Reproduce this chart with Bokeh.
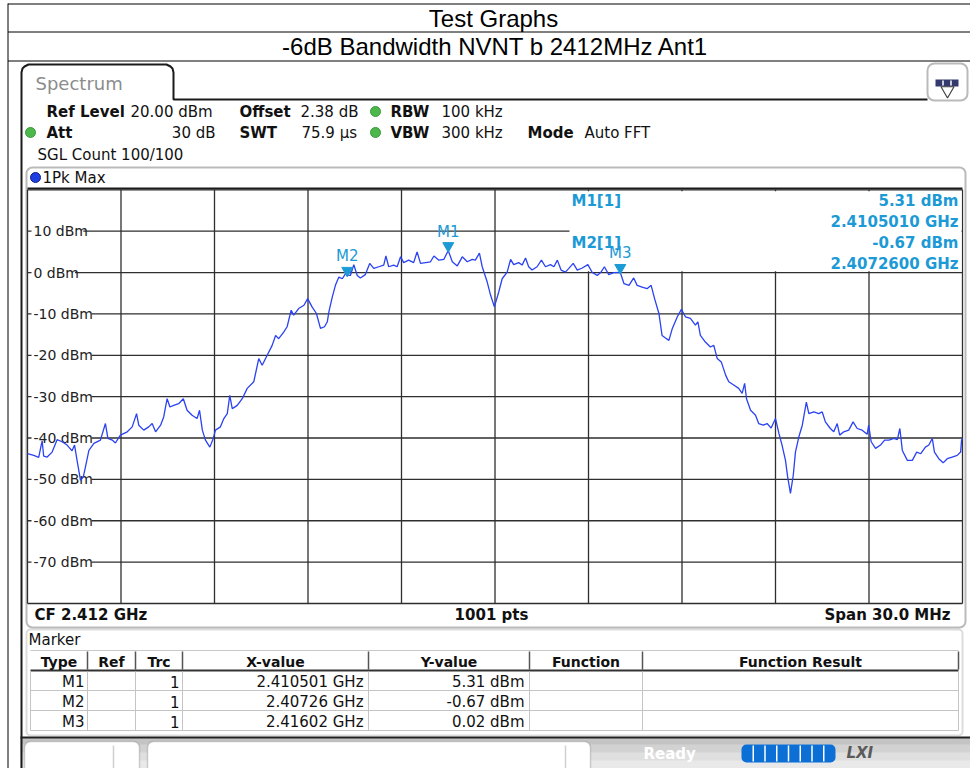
from bokeh.plotting import figure
from bokeh.models import Range1d, BoxAnnotation
from bokeh.embed import file_html
from bokeh.resources import INLINE
from bokeh.core.properties import value

# ---------------- data ----------------
report_title = "Test Graphs"
report_subtitle = "-6dB Bandwidth NVNT b 2412MHz Ant1"

center_mhz = 2412.0
span_mhz = 30.0
ref_level_dbm = 20.0
db_per_div = 10.0
n_div_y = 10
n_div_x = 10
y_tick_dbm = [10, 0, -10, -20, -30, -40, -50, -60, -70]
y_tick_labels = ["10 dBm", "0 dBm", "-10 dBm", "-20 dBm", "-30 dBm",
                 "-40 dBm", "-50 dBm", "-60 dBm", "-70 dBm"]

trace_freq_mhz = [
    2397.00, 2397.20, 2397.36, 2397.44, 2397.47, 2397.52, 2397.63, 2397.79, 2397.95, 2398.11,
    2398.27, 2398.43, 2398.51, 2398.59, 2398.70, 2398.79, 2398.86, 2398.97, 2399.13, 2399.34,
    2399.50, 2399.58, 2399.72, 2399.82, 2399.98, 2400.20, 2400.36, 2400.50, 2400.57, 2400.73,
    2400.89, 2401.00, 2401.11, 2401.27, 2401.37, 2401.48, 2401.57, 2401.69, 2401.85, 2402.00,
    2402.12, 2402.28, 2402.44, 2402.52, 2402.61, 2402.71, 2402.85, 2402.96, 2403.03, 2403.19,
    2403.30, 2403.41, 2403.49, 2403.57, 2403.73, 2403.89, 2404.05, 2404.26, 2404.42, 2404.53,
    2404.69, 2404.85, 2404.96, 2405.06, 2405.22, 2405.33, 2405.46, 2405.54, 2405.70, 2405.87,
    2405.99, 2406.13, 2406.27, 2406.40, 2406.53, 2406.62, 2406.67, 2406.78, 2406.88, 2406.99,
    2407.10, 2407.20, 2407.26, 2407.36, 2407.47, 2407.58, 2407.68, 2407.84, 2407.98, 2408.11,
    2408.27, 2408.43, 2408.50, 2408.59, 2408.75, 2408.86, 2408.97, 2409.07, 2409.23, 2409.39,
    2409.50, 2409.61, 2409.77, 2409.93, 2410.04, 2410.20, 2410.36, 2410.50, 2410.63, 2410.79,
    2410.95, 2411.11, 2411.27, 2411.37, 2411.50, 2411.59, 2411.75, 2411.86, 2411.98, 2412.12,
    2412.23, 2412.39, 2412.50, 2412.60, 2412.76, 2412.87, 2412.98, 2413.08, 2413.19, 2413.35,
    2413.49, 2413.62, 2413.78, 2413.89, 2414.00, 2414.12, 2414.26, 2414.37, 2414.51, 2414.64,
    2414.80, 2414.98, 2415.12, 2415.28, 2415.39, 2415.51, 2415.65, 2415.81, 2416.02, 2416.14,
    2416.30, 2416.45, 2416.56, 2416.72, 2416.88, 2417.01, 2417.12, 2417.26, 2417.36, 2417.47,
    2417.58, 2417.69, 2417.85, 2417.98, 2418.11, 2418.27, 2418.43, 2418.51, 2418.59, 2418.75,
    2418.91, 2419.02, 2419.13, 2419.26, 2419.40, 2419.50, 2419.66, 2419.82, 2419.93, 2420.01,
    2420.07, 2420.20, 2420.36, 2420.46, 2420.61, 2420.73, 2420.86, 2421.00, 2421.11, 2421.21,
    2421.32, 2421.39, 2421.48, 2421.57, 2421.64, 2421.75, 2421.86, 2421.99, 2422.07, 2422.23,
    2422.39, 2422.50, 2422.60, 2422.76, 2422.87, 2422.98, 2423.06, 2423.19, 2423.35, 2423.49,
    2423.62, 2423.78, 2423.94, 2423.99, 2424.07, 2424.21, 2424.37, 2424.50, 2424.64, 2424.80,
    2424.91, 2424.99, 2425.07, 2425.23, 2425.39, 2425.53, 2425.66, 2425.81, 2425.92, 2426.03,
    2426.10, 2426.24, 2426.38, 2426.51, 2426.67, 2426.83, 2426.94, 2426.97, 2427.00,
]
trace_dbm = [
    -43.8, -44.2, -44.7, -41.7, -40.7, -44.4, -44.6, -43.4, -40.4, -40.9,
    -41.7, -43.1, -41.7, -45.4, -50.2, -49.4, -47.0, -43.0, -41.3, -40.5,
    -36.5, -40.1, -40.5, -41.2, -39.3, -38.5, -37.3, -34.1, -36.9, -38.1,
    -37.3, -36.5, -38.5, -36.9, -34.9, -30.5, -32.5, -32.1, -31.7, -30.5,
    -33.3, -34.5, -35.3, -33.3, -38.1, -40.5, -42.2, -40.1, -38.1, -37.3,
    -35.3, -34.1, -29.7, -32.9, -32.1, -30.5, -28.0, -26.4, -20.8, -22.4,
    -20.0, -17.6, -15.2, -16.0, -14.4, -13.1, -9.1, -10.3, -8.7, -7.9,
    -6.3, -8.3, -9.9, -13.5, -13.1, -11.9, -9.5, -5.9, -3.1, -1.1,
    -1.5, -0.3, -0.67, -0.7, 1.9, -0.7, -1.3, -0.5, 2.2, 1.0,
    1.4, 1.8, 4.0, 1.4, 1.8, 1.4, 3.8, 2.4, 3.0, 2.4,
    5.0, 2.2, 2.4, 2.6, 4.0, 3.0, 3.2, 5.31, 2.6, 1.6,
    3.8, 2.6, 3.2, 3.0, 4.7, 1.4, -2.3, -5.5, -8.3, -4.7,
    -1.5, 0.1, 3.2, 1.9, 2.4, 1.8, 3.5, 1.4, 0.6, 1.4,
    3.0, 1.4, 1.9, 1.4, 3.0, 0.6, 0.1, 1.0, 2.2, 0.6,
    1.1, 1.9, 0.0, -0.7, 0.0, 1.4, -0.5, 0.0, 0.02, -2.7,
    -3.1, -1.3, -3.1, -3.5, -3.9, -3.1, -6.3, -9.9, -15.2, -15.8,
    -16.4, -13.5, -10.7, -8.9, -10.7, -11.1, -12.7, -11.9, -15.2, -16.8,
    -18.0, -17.6, -20.8, -21.6, -24.8, -26.4, -27.2, -28.0, -29.2, -26.8,
    -30.5, -33.3, -34.5, -36.5, -36.9, -36.5, -37.6, -35.3, -38.9, -41.7,
    -45.4, -49.4, -53.4, -49.0, -43.4, -39.7, -36.9, -31.3, -34.1, -33.7,
    -34.1, -33.7, -36.1, -37.7, -38.5, -36.5, -39.3, -38.5, -38.1, -36.1,
    -37.7, -38.1, -39.1, -36.9, -40.9, -42.5, -41.7, -40.5, -40.5, -40.1,
    -40.4, -37.7, -43.0, -45.4, -45.4, -43.4, -43.8, -42.2, -41.7, -40.1,
    -43.4, -45.0, -46.0, -45.0, -44.6, -44.2, -43.4, -40.5, -40.1,
]

marker_names = ["M1", "M2", "M3"]
marker_freq_ghz = [2.410501, 2.40726, 2.41602]
marker_dbm = [5.31, -0.67, 0.02]
marker_table_x = ["2.410501 GHz", "2.40726 GHz", "2.41602 GHz"]
marker_table_y = ["5.31 dBm", "-0.67 dBm", "0.02 dBm"]
marker_table_trc = ["1", "1", "1"]
table_headers = ["Type", "Ref", "Trc", "X-value", "Y-value", "Function", "Function Result"]

# ---------------- layout (reference pixel space) ----------------
OX, OY = 0, 0
W, H = 970, 768
GX0, GX1 = 27.0, 962.0      # grid left/right pixel
GY0, GY1 = 189.3, 603.0     # grid top/bottom pixel

f_lo = center_mhz - span_mhz / 2
f_hi = center_mhz + span_mhz / 2
db_top = ref_level_dbm
db_bot = ref_level_dbm - n_div_y * db_per_div
mhz_px = span_mhz / (GX1 - GX0)
db_px = (db_top - db_bot) / (GY1 - GY0)

p = figure(width=W, height=H, x_range=Range1d(OX, OX + W), y_range=Range1d(OY + H, OY),
           output_backend="svg", toolbar_location=None, min_border=0,
           x_axis_location=None, y_axis_location=None)
p.grid.visible = False
p.outline_line_color = None
p.background_fill_color = "white"
p.border_fill_color = "white"
p.extra_x_ranges = {"f": Range1d(f_lo - (GX0 - OX) * mhz_px, f_hi + (OX + W - GX1) * mhz_px)}
p.extra_y_ranges = {"db": Range1d(db_bot - (OY + H - GY1) * db_px, db_top + (GY0 - OY) * db_px)}

DARK = "#1a1a1a"
GRID = "#2e2e2e"
MK = "#1c9ad6"
TRACE = "#2a42f2"
GREEN = "#4cb84c"


def txt(x, y, s, size=15, bold=False, color="#111111", align="left", baseline="middle",
        font="DejaVu Sans", italic=False):
    style = "normal"
    if bold and italic:
        style = "bold italic"
    elif bold:
        style = "bold"
    elif italic:
        style = "italic"
    p.text(x=[x], y=[y], text=[s], text_font=value(font), text_font_size=f"{size}px",
           text_font_style=style, text_color=color, text_align=align, text_baseline=baseline)


def box(l, r, t, b, radius=0, fill="white", line=DARK, lw=2):
    p.add_layout(BoxAnnotation(left=l, right=r, top=t, bottom=b, border_radius=radius,
                               fill_color=fill, fill_alpha=1.0, line_color=line,
                               line_width=lw, level="underlay"))


# status bar gradient & buttons (underlay)
box(20, 970, 737, 768, 0, "#c4c4c4", None, 0)
box(20, 970, 744, 768, 0, "#d2d2d2", None, 0)
box(20, 970, 752, 768, 0, "#dfdfdf", None, 0)
box(20, 970, 760, 768, 0, "#e9e9e9", None, 0)
box(24, 139, 741, 790, 6, "white", "#6a6a6a", 1.5)
box(147, 590, 741, 790, 6, "white", "#6a6a6a", 1.5)
box(741, 835, 744, 762, 5, "#0b6fd6", None, 0)
# screen panels
box(26, 965, 167, 627, 6, "white", DARK, 2)
box(26, 962, 629, 735, 4, "white", "#8a8a8a", 2)
box(927, 967, 63, 100, 7, "white", DARK, 2)

# report table lines
p.line(x=[7.5, 970], y=[3.5, 3.5], line_color="black", line_width=1)
p.line(x=[7.5, 970], y=[31.5, 31.5], line_color="black", line_width=1)
p.line(x=[7.5, 970], y=[60.5, 60.5], line_color="black", line_width=1)
p.line(x=[7.5, 7.5], y=[3, 768], line_color="black", line_width=1)
txt(493, 18, report_title, size=24, font="Liberation Sans", color="black", align="center")
txt(495, 46, report_subtitle, size=24, font="Liberation Sans", color="black", align="center")

# tab outline
p.line(x=[21, 21, 22, 24, 28, 166, 170, 172, 173, 173, 927],
       y=[768, 72, 68, 66, 64, 64, 66, 68, 72, 99, 99], line_color=DARK, line_width=2)
txt(35, 83, "Spectrum", size=18, color="#8c8c8c")

# menu button icon
p.quad(left=[935], right=[958], top=[79], bottom=[86], fill_color="#353a6e", line_color=None)
p.segment(x0=[942.5, 950.5], x1=[942.5, 950.5], y0=[80, 80], y1=[85, 85], line_color="white", line_width=1.5)
p.scatter(x=[947], y=[90], marker="inverted_triangle", size=13, fill_color=None,
          line_color="#444", line_width=1.2)

# settings block
txt(46, 111, "Ref Level", bold=True)
txt(130, 111, "20.00 dBm")
txt(239, 111, "Offset", bold=True)
txt(300, 111, "2.38 dB")
txt(390, 111, "RBW", bold=True)
txt(441, 111, "100 kHz")
txt(46, 132, "Att", bold=True)
txt(215, 132, "30 dB", align="right")
txt(239, 132, "SWT", bold=True)
txt(301, 132, "75.9 µs")
txt(390, 132, "VBW", bold=True)
txt(441, 132, "300 kHz")
txt(527, 132, "Mode", bold=True)
txt(584, 132, "Auto FFT")
txt(37, 154, "SGL Count 100/100")
p.scatter(x=[30, 375, 375], y=[132, 111, 132], size=10, fill_color=GREEN, line_color="#3a9a3a")

# trace header
p.scatter(x=[35], y=[177], size=10, fill_color="#1f3fe0", line_color="#10208a")
txt(42, 177, "1Pk Max")
p.line(x=[27, 962], y=[188, 188], line_color=DARK, line_width=2)

# grid
vx = [f_lo + i * span_mhz / n_div_x for i in range(n_div_x + 1)]
hy = [db_top - i * db_per_div for i in range(n_div_y + 1)]
p.segment(x0=vx, x1=vx, y0=[db_top] * len(vx), y1=[db_bot] * len(vx),
          x_range_name="f", y_range_name="db", line_color=GRID, line_width=1.3)
p.segment(x0=[f_lo] * len(hy), x1=[f_hi] * len(hy), y0=hy, y1=hy,
          x_range_name="f", y_range_name="db", line_color=GRID, line_width=1.3)

# marker readout area (white box over grid)
p.quad(left=[569], right=[961], top=[190.8], bottom=[270.8], fill_color="white", line_color=None)

# y labels with white background
p.quad(left=[31] * len(y_tick_dbm), right=[31 + 8.3 * len(s) + 2 for s in y_tick_labels],
       top=[v + 1.9 for v in y_tick_dbm], bottom=[v - 1.9 for v in y_tick_dbm],
       y_range_name="db", fill_color="white", line_color=None)
p.text(x=[33] * len(y_tick_dbm), y=y_tick_dbm, text=y_tick_labels, y_range_name="db",
       text_font=value("DejaVu Sans"), text_font_size="14px", text_color="#222222",
       text_baseline="middle", text_align="left")

# trace
p.line(x=trace_freq_mhz, y=trace_dbm, x_range_name="f", y_range_name="db",
       line_color=TRACE, line_width=1.3)

# markers
mx = [f * 1000.0 for f in marker_freq_ghz]
p.scatter(x=mx, y=[v + 1.15 for v in marker_dbm], x_range_name="f", y_range_name="db",
          marker="inverted_triangle", size=11, fill_color=MK, line_color=MK)
p.text(x=mx, y=marker_dbm, text=marker_names, x_range_name="f", y_range_name="db",
       y_offset=-19, text_font=value("DejaVu Sans"), text_font_size="15px", text_color=MK,
       text_align="center", text_baseline="alphabetic")

# marker readout
txt(571, 200, f"{marker_names[0]}[1]", bold=True, color=MK)
txt(958, 200, f"{marker_dbm[0]:.2f} dBm", bold=True, color=MK, align="right")
txt(958, 221, f"{marker_freq_ghz[0]:.7f} GHz", bold=True, color=MK, align="right")
txt(571, 242, f"{marker_names[1]}[1]", bold=True, color=MK)
txt(958, 242, f"{marker_dbm[1]:.2f} dBm", bold=True, color=MK, align="right")
txt(958, 263, f"{marker_freq_ghz[1]:.7f} GHz", bold=True, color=MK, align="right")

# footer of trace window
txt(34, 614, f"CF {center_mhz / 1000:.3f} GHz", bold=True)
txt(491, 614, "1001 pts", bold=True, align="center")
txt(950, 614, f"Span {span_mhz:.1f} MHz", bold=True, align="right")

# marker table
txt(28, 639, "Marker")
col_x = [30, 87, 135, 182, 368, 529, 642, 958]
p.line(x=[30, 958], y=[650, 650], line_color="#c8c8c8", line_width=1)
p.segment(x0=col_x[1:], x1=col_x[1:], y0=[651] * 7, y1=[669] * 7, line_color="#555555", line_width=1.5)
p.line(x=[30, 958], y=[670, 670], line_color="#333333", line_width=2)
for yy in (690, 710, 730):
    p.line(x=[30, 958], y=[yy, yy], line_color="#c4c4c4", line_width=1)
p.segment(x0=col_x, x1=col_x, y0=[671] * 8, y1=[730] * 8, line_color="#c4c4c4", line_width=1)
for i, h in enumerate(table_headers):
    txt((col_x[i] + col_x[i + 1]) / 2, 661, h, size=14, bold=True, align="center")
for r in range(3):
    yy = 681 + 20 * r
    txt(84, yy, marker_names[r], align="right")
    txt(179, yy, marker_table_trc[r], align="right")
    txt(363, yy, marker_table_x[r], align="right")
    txt(524, yy, marker_table_y[r], align="right")

# status bar
p.line(x=[20, 970], y=[737, 737], line_color="#222222", line_width=2)
p.segment(x0=[113, 565], x1=[113, 565], y0=[745, 745], y1=[768, 768], line_color="#d0d0d0", line_width=1.5)
seg = [741 + (835 - 741) * k / 8 for k in range(1, 8)]
p.segment(x0=seg, x1=seg, y0=[745] * 7, y1=[761] * 7, line_color="white", line_width=1.5)
txt(643, 753, "Ready", bold=True, color="white")
txt(846, 752, "LXI", bold=True, italic=True, color="#5a5a5a")

open("out.html", "w").write(file_html(p, INLINE))
